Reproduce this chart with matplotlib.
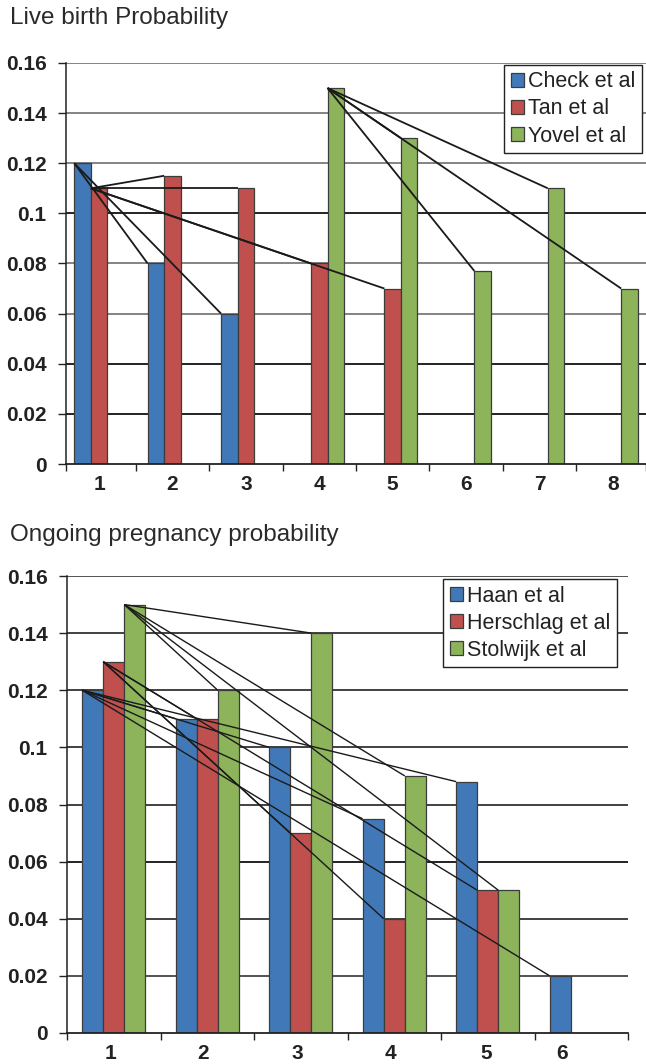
import numpy as np
import matplotlib.pyplot as plt
from matplotlib.ticker import FixedLocator

plt.rcParams['font.family'] = ['Liberation Sans', 'DejaVu Sans']

# live birth panel
live_cats = [1, 2, 3, 4, 5, 6, 7, 8]
live_names = ['Check et al', 'Tan et al', 'Yovel et al']
check = [0.12, 0.08, 0.06, None, None, None, None, None]
tan = [0.11, 0.115, 0.11, 0.08, 0.07, None, None, None]
yovel = [None, None, None, 0.15, 0.13, 0.077, 0.11, 0.07]

# ongoing pregnancy panel
preg_cats = [1, 2, 3, 4, 5, 6]
preg_names = ['Haan et al', 'Herschlag et al', 'Stolwijk et al']
haan = [0.12, 0.11, 0.10, 0.075, 0.088, 0.02]
herschlag = [0.13, 0.11, 0.07, 0.04, 0.05, None]
stolwijk = [0.15, 0.12, 0.14, 0.09, 0.05, None]

yticks = [0, 0.02, 0.04, 0.06, 0.08, 0.1, 0.12, 0.14, 0.16]
ytick_labels = ['0', '0.02', '0.04', '0.06', '0.08', '0.1', '0.12', '0.14', '0.16']

colors = ['#4179b8', '#c0504e', '#8db35b']
width = 0.225


def draw_panel(ax, cats, series, names, grid_cols, line_w, xlim, label_pos):
    offsets = [-width, 0, width]
    for vals, name, col, off in zip(series, names, colors, offsets):
        xs = [c + off for c, v in zip(cats, vals) if v is not None]
        hs = [v for v in vals if v is not None]
        ax.bar(xs, hs, width=width, color=col, edgecolor='#3c3c3c',
               linewidth=0.9, label=name, zorder=3)
        # lines from the first bar's corner to every later bar of the series
        x0 = xs[0] - width / 2
        y0 = hs[0]
        for x, h in zip(xs[1:], hs[1:]):
            ax.plot([x0, x - width / 2], [y0, h], color='#1a1a1a',
                    lw=line_w, zorder=4, solid_capstyle='butt')

    for y, gc in zip(yticks[1:], grid_cols):
        ax.axhline(y, color=gc, lw=1.3, zorder=1)

    ax.set_xlim(*xlim)
    ax.set_ylim(0, 0.16)
    ax.set_yticks(yticks)
    ax.set_yticklabels(ytick_labels, fontweight='bold', fontsize=15, color='#222222')
    ax.set_xticks(label_pos)
    ax.set_xticklabels([str(c) for c in cats], fontweight='bold', fontsize=15, color='#222222')
    ax.tick_params(axis='x', which='major', length=0, pad=8)
    bounds = [xlim[0]] + [c + 0.5 for c in cats[:-1]] + [min(cats[-1] + 0.5, xlim[1])]
    ax.xaxis.set_minor_locator(FixedLocator(bounds))
    ax.tick_params(axis='x', which='minor', length=5, width=1, color='#222222')
    ax.tick_params(axis='y', length=6, width=1, color='#222222', pad=8)
    for s in ['top', 'right']:
        ax.spines[s].set_visible(False)
    ax.spines['left'].set_color('#222222')
    ax.spines['bottom'].set_color('#222222')
    ax.spines['left'].set_linewidth(1.1)
    ax.spines['bottom'].set_linewidth(1.3)
    ax.spines['left'].set_zorder(5)
    ax.spines['bottom'].set_zorder(5)


def add_legend(ax, anchor):
    leg = ax.legend(loc='upper right', bbox_to_anchor=anchor, borderaxespad=0,
                    fontsize=15.5, handlelength=0.6, handleheight=0.6, handletextpad=0.2,
                    labelspacing=0.28, borderpad=0.3, fancybox=False, framealpha=1)
    leg.get_frame().set_edgecolor('#222222')
    leg.get_frame().set_linewidth(1)
    for t in leg.get_texts():
        t.set_color('#222222')


fig = plt.figure(figsize=(6.46, 10.64), dpi=100)

ax1 = fig.add_axes([66 / 646, 1 - 464 / 1064, 580 / 646, 401 / 1064])
draw_panel(ax1, live_cats, [check, tan, yovel], live_names,
           ['#111111', '#111111', '#7a7a7a', '#7a7a7a', '#111111', '#7a7a7a', '#7a7a7a', '#7a7a7a'],
           1.3, (0.55, 8.45), live_cats)
add_legend(ax1, (0.993, 0.995))

ax2 = fig.add_axes([67 / 646, 1 - 1033 / 1064, 561 / 646, 457 / 1064])
draw_panel(ax2, preg_cats, [haan, herschlag, stolwijk], preg_names,
           ['#444444', '#333333', '#111111', '#333333', '#333333', '#333333', '#333333', '#444444'],
           1.0, (0.5, 6.5), [0.96, 1.96, 2.96, 3.96, 4.98, 5.8])
add_legend(ax2, (0.980, 0.993))

fig.text(10 / 646, 1 - 18 / 1064, 'Live birth Probability', fontsize=17.5,
         color='#2a2a2a', va='center', ha='left')
fig.text(10 / 646, 1 - 535 / 1064, 'Ongoing pregnancy probability', fontsize=17.5,
         color='#2a2a2a', va='center', ha='left')

fig.savefig('out.png', dpi=100)
